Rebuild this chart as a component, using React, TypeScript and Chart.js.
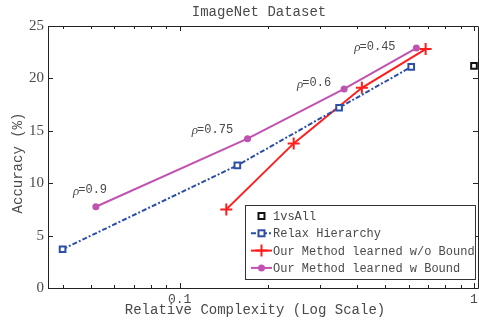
import React, { useEffect, useRef } from 'react';
import { Chart, registerables } from 'chart.js';

Chart.register(...registerables);

// ---- data ----
const seriesNames = ['1vsAll', 'Relax Hierarchy', 'Our Method learned w/o Bound', 'Our Method learned w Bound'];
const oneVsAllX = [1.0];
const oneVsAllY = [21.2];
const relaxX = [0.04, 0.157, 0.348, 0.612];
const relaxY = [3.7, 11.7, 17.2, 21.1];
const noBoundX = [0.144, 0.244, 0.416, 0.685];
const noBoundY = [7.5, 13.8, 19.1, 22.8];
const boundX = [0.0519, 0.17, 0.362, 0.637];
const boundY = [7.75, 14.25, 19.0, 22.9];
const rhoTexts = ['=0.9', '=0.75', '=0.6', '=0.45'];
const rhoX = [0.0434, 0.11, 0.2506, 0.392];
const rhoY = [9.33, 15.14, 19.55, 23.0];
const xTickValues = [0.04, 0.05, 0.06, 0.07, 0.08, 0.09, 0.1, 0.2, 0.3, 0.4, 0.5, 0.6, 0.7, 0.8, 0.9, 1];
const xMajorTicks = [0.1, 1];
const xTickLabels = ['0.1', '1'];
const yTickValues = [0, 5, 10, 15, 20, 25];
const titleText = 'ImageNet Dataset';
const xTitle = 'Relative Complexity (Log Scale)';
const yTitle = 'Accuracy (%)';

const MONO = '"Liberation Mono", "DejaVu Sans Mono", monospace';
const SERIF = '"Liberation Serif", "DejaVu Serif", serif';
const BLUE = '#2c4ea6';
const RED = '#ff1e1e';
const MAG = '#c052b2';
const TEXT = '#4a4a4a';

const pts = (xs: number[], ys: number[]) => xs.map((x, i) => ({ x, y: ys[i] }));

function drawMarker(ctx: CanvasRenderingContext2D, kind: string, x: number, y: number) {
  ctx.save();
  if (kind === 'rectBlack' || kind === 'rectBlue') {
    ctx.strokeStyle = kind === 'rectBlack' ? '#111' : BLUE;
    ctx.fillStyle = '#fff';
    ctx.lineWidth = 2;
    ctx.fillRect(x - 3, y - 3, 6, 6);
    ctx.strokeRect(x - 3, y - 3, 6, 6);
  } else if (kind === 'cross') {
    ctx.strokeStyle = RED;
    ctx.lineWidth = 2;
    ctx.beginPath();
    ctx.moveTo(x - 6, y);
    ctx.lineTo(x + 6, y);
    ctx.moveTo(x, y - 6);
    ctx.lineTo(x, y + 6);
    ctx.stroke();
  } else if (kind === 'circle') {
    ctx.fillStyle = MAG;
    ctx.beginPath();
    ctx.arc(x, y, 3.5, 0, Math.PI * 2);
    ctx.fill();
  }
  ctx.restore();
}

const decorPlugin = {
  id: 'decor',
  afterDraw(chart: any) {
    const ctx: CanvasRenderingContext2D = chart.ctx;
    const { left, right, top, bottom } = chart.chartArea;
    const xs = chart.scales.x;
    const ys = chart.scales.y;
    ctx.save();
    // frame
    ctx.strokeStyle = '#222';
    ctx.lineWidth = 1;
    ctx.beginPath();
    ctx.moveTo(left + 0.5, top + 0.5);
    ctx.lineTo(right + 0.5, top + 0.5);
    ctx.moveTo(left + 0.5, top + 0.5);
    ctx.lineTo(left + 0.5, bottom + 0.5);
    ctx.lineTo(right + 0.5, bottom + 0.5);
    ctx.lineTo(right + 0.5, top + 0.5);
    ctx.stroke();
    // ticks
    ctx.beginPath();
    xTickValues.forEach((v) => {
      const px = Math.round(xs.getPixelForValue(v)) + 0.5;
      const len = xMajorTicks.includes(v) ? 5 : 3;
      ctx.moveTo(px, bottom);
      ctx.lineTo(px, bottom - len);
      ctx.moveTo(px, top);
      ctx.lineTo(px, top + len);
    });
    yTickValues.forEach((v) => {
      const py = Math.round(ys.getPixelForValue(v)) + 0.5;
      ctx.moveTo(left, py);
      ctx.lineTo(left + 5, py);
      ctx.moveTo(right, py);
      ctx.lineTo(right - 5, py);
    });
    ctx.stroke();

    // x tick labels
    ctx.fillStyle = TEXT;
    ctx.font = `13px ${MONO}`;
    ctx.textAlign = 'center';
    ctx.textBaseline = 'top';
    xMajorTicks.forEach((v, i) => {
      ctx.fillText(xTickLabels[i], xs.getPixelForValue(v), bottom + 5);
    });

    // rho annotations
    ctx.textBaseline = 'middle';
    ctx.textAlign = 'left';
    rhoTexts.forEach((t, i) => {
      const px = xs.getPixelForValue(rhoX[i]);
      const py = ys.getPixelForValue(rhoY[i]);
      ctx.font = `italic 13px ${SERIF}`;
      ctx.fillText('\u03c1', px, py + 1);
      const w = ctx.measureText('\u03c1').width;
      ctx.font = `12px ${MONO}`;
      ctx.fillText(t, px + w - 1, py);
    });

    // titles
    ctx.font = `14px ${MONO}`;
    ctx.textAlign = 'center';
    ctx.fillText(titleText, (left + right) / 2 - 4, 12);
    ctx.fillText(xTitle, (left + right) / 2 - 8, 310);
    ctx.save();
    ctx.translate(18, (top + bottom) / 2 + 6);
    ctx.rotate(-Math.PI / 2);
    ctx.fillText(yTitle, 0, 0);
    ctx.restore();

    // legend
    const bx1 = right - 233;
    const by1 = bottom - 83;
    const bx2 = right - 3;
    const by2 = bottom - 9;
    ctx.fillStyle = '#fff';
    ctx.fillRect(bx1, by1, bx2 - bx1, by2 - by1);
    ctx.strokeStyle = '#333';
    ctx.lineWidth = 1;
    ctx.strokeRect(bx1 + 0.5, by1 + 0.5, bx2 - bx1, by2 - by1);
    const kinds = ['rectBlack', 'rectBlue', 'cross', 'circle'];
    const colors = ['#111', BLUE, RED, MAG];
    const dashes = [[], [5, 2, 2, 2], [], []];
    ctx.font = `12px ${MONO}`;
    ctx.textAlign = 'left';
    ctx.textBaseline = 'middle';
    seriesNames.forEach((name, i) => {
      const ry = by1 + 11 + i * 17.3;
      const lx1 = bx1 + 6;
      const lx2 = bx1 + 27;
      if (i > 0) {
        ctx.save();
        ctx.strokeStyle = colors[i];
        ctx.lineWidth = 2;
        ctx.setLineDash(dashes[i]);
        ctx.beginPath();
        ctx.moveTo(lx1, ry);
        ctx.lineTo(lx2, ry);
        ctx.stroke();
        ctx.restore();
      }
      drawMarker(ctx, kinds[i], (lx1 + lx2) / 2, ry);
      ctx.fillStyle = TEXT;
      ctx.fillText(name, lx2 + 1, ry + 1);
    });
    ctx.restore();
  },
};

export default function App() {
  const ref = useRef<HTMLCanvasElement | null>(null);
  useEffect(() => {
    document.body.style.margin = '0';
    const canvas = ref.current!;
    const chart = new Chart(canvas, {
      type: 'line',
      data: {
        datasets: [
          {
            label: seriesNames[0],
            data: pts(oneVsAllX, oneVsAllY),
            showLine: false,
            pointStyle: 'rect',
            pointRadius: 4,
            borderWidth: 2,
            borderColor: '#111',
            backgroundColor: '#fff',
            clip: false,
          },
          {
            label: seriesNames[1],
            data: pts(relaxX, relaxY),
            borderColor: BLUE,
            backgroundColor: '#fff',
            borderWidth: 2,
            borderDash: [5, 2, 2, 2],
            pointStyle: 'rect',
            pointRadius: 4,
            pointBorderWidth: 2,
            tension: 0,
          },
          {
            label: seriesNames[2],
            data: pts(noBoundX, noBoundY),
            borderColor: RED,
            backgroundColor: RED,
            borderWidth: 2,
            pointStyle: 'cross',
            pointRadius: 6,
            pointBorderWidth: 2,
            tension: 0,
          },
          {
            label: seriesNames[3],
            data: pts(boundX, boundY),
            borderColor: MAG,
            backgroundColor: MAG,
            borderWidth: 2,
            pointStyle: 'circle',
            pointRadius: 3.5,
            pointBorderWidth: 0,
            tension: 0,
          },
        ],
      },
      options: {
        responsive: false,
        animation: false,
        events: [],
        layout: { autoPadding: false, padding: { top: 26, left: 0, right: 0, bottom: 0 } },
        plugins: { legend: { display: false }, title: { display: false }, tooltip: { enabled: false } },
        scales: {
          x: {
            type: 'logarithmic',
            bounds: 'data',
            min: 0.03569,
            max: 1.0317,
            grid: { display: false, drawTicks: false },
            border: { display: false },
            afterBuildTicks: (scale: any) => {
              scale.ticks = xTickValues.map((v) => ({ value: v }));
            },
            afterFit: (scale: any) => {
              scale.height = 33;
            },
            ticks: {
              autoSkip: false,
              maxRotation: 0,
              padding: 5,
              font: { family: MONO, size: 1 },
              callback: () => '',
            },
          },
          y: {
            min: 0,
            max: 25,
            grid: { display: false, drawTicks: false },
            border: { display: false },
            afterBuildTicks: (scale: any) => {
              scale.ticks = yTickValues.map((v) => ({ value: v }));
            },
            afterFit: (scale: any) => {
              scale.width = 48;
            },
            ticks: {
              padding: 4,
              color: TEXT,
              font: { family: SERIF, size: 15 },
            },
          },
        },
      },
      plugins: [decorPlugin],
    } as any);
    return () => chart.destroy();
  }, []);
  return (
    <div style={{ position: 'absolute', left: 0, top: 0, width: 479, height: 321 }}>
      <canvas ref={ref} width={479} height={321} style={{ width: 479, height: 321 }} />
    </div>
  );
}
